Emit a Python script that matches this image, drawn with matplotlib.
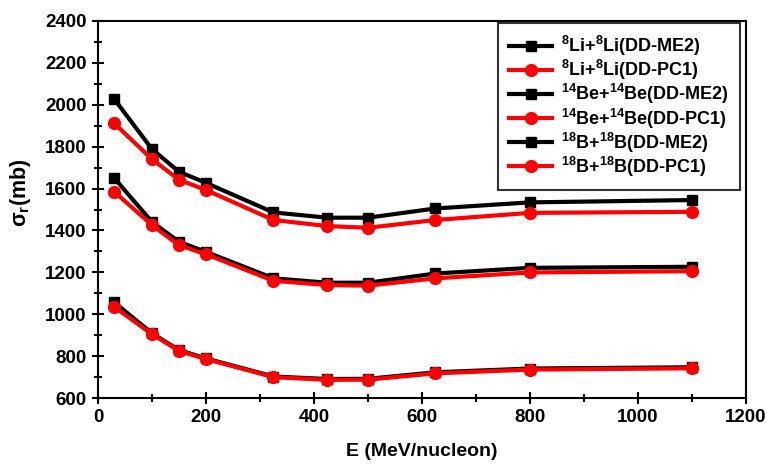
import numpy as np
import matplotlib.pyplot as plt
from matplotlib.ticker import MultipleLocator

plt.rcParams['font.family'] = 'Liberation Sans'
plt.rcParams['font.weight'] = 'bold'
plt.rcParams['mathtext.fontset'] = 'custom'
plt.rcParams['mathtext.rm'] = 'Liberation Sans:weight=bold'
plt.rcParams['mathtext.bf'] = 'Liberation Sans:weight=bold'
plt.rcParams['mathtext.it'] = 'Liberation Sans:weight=bold'
plt.rcParams['mathtext.default'] = 'bf'

# energies (MeV/nucleon)
E = [30, 100, 150, 200, 325, 425, 500, 625, 800, 1100]

# reaction cross sections (mb)
li_me2 = [1058, 910, 830, 790, 704, 692, 693, 724, 742, 748]
li_pc1 = [1036, 906, 826, 787, 701, 688, 689, 719, 737, 743]
be_me2 = [1650, 1441, 1346, 1298, 1172, 1151, 1151, 1195, 1222, 1227]
be_pc1 = [1585, 1426, 1330, 1287, 1160, 1140, 1137, 1172, 1200, 1206]
b_me2 = [2027, 1788, 1680, 1627, 1486, 1461, 1461, 1505, 1534, 1545]
b_pc1 = [1911, 1740, 1642, 1593, 1450, 1421, 1413, 1450, 1484, 1489]

xticks = [0, 200, 400, 600, 800, 1000, 1200]
yticks = [600, 800, 1000, 1200, 1400, 1600, 1800, 2000, 2200, 2400]

series = [
    (li_me2, 'black', 's', r'$^{8}$Li+$^{8}$Li(DD-ME2)'),
    (li_pc1, 'red', 'o', r'$^{8}$Li+$^{8}$Li(DD-PC1)'),
    (be_me2, 'black', 's', r'$^{14}$Be+$^{14}$Be(DD-ME2)'),
    (be_pc1, 'red', 'o', r'$^{14}$Be+$^{14}$Be(DD-PC1)'),
    (b_me2, 'black', 's', r'$^{18}$B+$^{18}$B(DD-ME2)'),
    (b_pc1, 'red', 'o', r'$^{18}$B+$^{18}$B(DD-PC1)'),
]

fig = plt.figure(figsize=(7.67, 4.65), dpi=100)
ax = fig.add_axes([0.1277, 0.1434, 0.8449, 0.8121])

for vals, col, mk, lab in series:
    ms = 7 if mk == 's' else 8.5
    ax.plot(E, vals, color=col, marker=mk, ms=ms, lw=3, label=lab)

ax.set_xlim(0, 1200)
ax.set_ylim(600, 2400)
ax.set_xticks(xticks, [str(t) for t in xticks], fontweight='bold', fontsize=13.5)
ax.set_yticks(yticks, [str(t) for t in yticks], fontweight='bold', fontsize=13.5)
ax.xaxis.set_minor_locator(MultipleLocator(100))
ax.yaxis.set_minor_locator(MultipleLocator(100))
ax.tick_params(which='major', direction='inout', length=9, width=1.5,
               top=False, right=False)
ax.tick_params(which='minor', direction='inout', length=6, width=1.5)
for sp in ax.spines.values():
    sp.set_linewidth(1.5)

ax.set_xlabel('E (MeV/nucleon)', fontsize=14, fontweight='bold', labelpad=12)
ax.set_ylabel(r'$\mathbf{\sigma_r}$(mb)', fontsize=15.5, fontweight='bold')
ax.yaxis.set_label_coords(-0.1, 0.546)

leg = ax.legend(loc='upper right', fontsize=13, frameon=True, fancybox=False,
                edgecolor='black', handlelength=2.4, labelspacing=0.0,
                borderpad=0.6, handletextpad=0.5, borderaxespad=0,
                bbox_to_anchor=(0.991, 0.993))
leg.get_frame().set_linewidth(1.5)

fig.savefig('out.png', dpi=100)
